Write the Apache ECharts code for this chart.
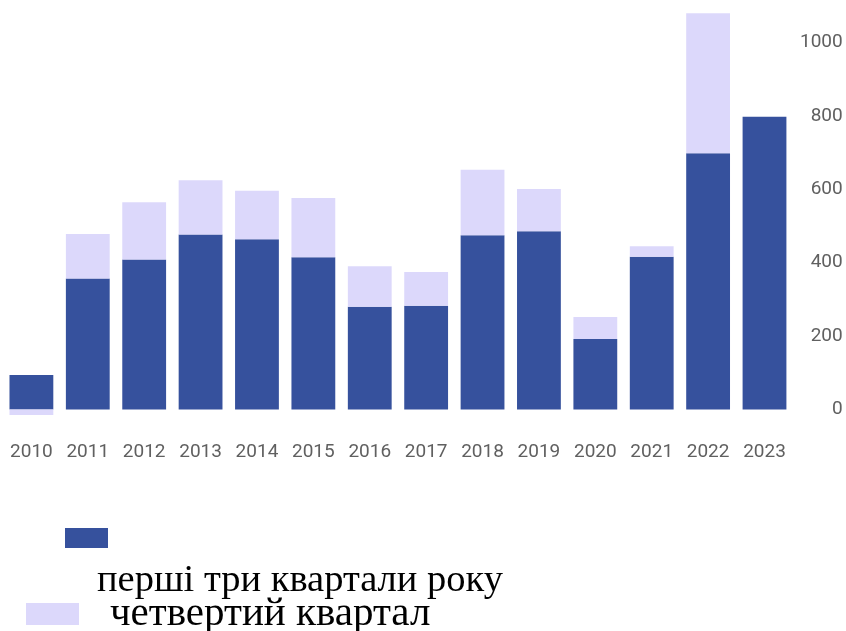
<!DOCTYPE html>
<html>
<head>
<meta charset="utf-8">
<script src="https://cdn.jsdelivr.net/npm/echarts@6/dist/echarts.min.js"></script>
<style>html,body{margin:0;padding:0;background:#fff}#c{width:846px;height:631px}</style>
</head>
<body>
<div id="c"></div>
<script>
const years = ['2010','2011','2012','2013','2014','2015','2016','2017','2018','2019','2020','2021','2022','2023'];
const firstThreeQuarters = [94, 357, 409, 477, 464, 415, 280, 283, 475, 486, 192, 416, 698, 798];
const fourthQuarter = [-15, 121, 156, 148, 132, 161, 110, 92, 178, 115, 60, 29, 382, 0];
const yTicks = [0, 200, 400, 600, 800, 1000];
const nameFirst = 'перші три квартали року';
const nameFourth = 'четвертий квартал';

const darkColor = '#36519d';
const lightColor = '#dcd8fb';

const chart = echarts.init(document.getElementById('c'), null, {renderer: 'canvas'});
chart.setOption({
  animation: false,
  backgroundColor: '#ffffff',
  grid: {left: 3.2, right: 53.3, top: 5.8, bottom: 221.5, containLabel: false},
  xAxis: {
    type: 'category',
    data: years,
    axisLine: {show: false},
    axisTick: {show: false},
    axisLabel: {interval: 0, margin: 33, color: '#606060', fontFamily: 'Roboto', fontSize: 19}
  },
  yAxis: {
    type: 'value',
    position: 'right',
    min: 0,
    max: 1100,
    interval: 200,
    splitLine: {show: false},
    axisLine: {show: false},
    axisTick: {show: false},
    axisLabel: {
      align: 'right',
      margin: 50,
      color: '#606060',
      fontFamily: 'Roboto',
      fontSize: 19,
      formatter: function (v) { return yTicks.indexOf(v) >= 0 ? String(v) : ''; }
    }
  },
  legend: [
    {data: [nameFirst], left: 65, top: 528, itemWidth: 43, itemHeight: 20, icon: 'rect',
     formatter: function () { return ''; }, selectedMode: false, padding: 0},
    {data: [nameFourth], left: 26, top: 603, itemWidth: 53, itemHeight: 22, icon: 'rect',
     formatter: function () { return ''; }, selectedMode: false, padding: 0}
  ],
  graphic: [
    {type: 'text', left: 97, top: 561, style: {text: nameFirst, font: '38.5px "Liberation Serif"', fill: '#000'}},
    {type: 'text', left: 110, top: 594, style: {text: nameFourth, font: '41px "Liberation Serif"', fill: '#000'}}
  ],
  series: [
    {name: nameFirst, type: 'bar', stack: 'total', data: firstThreeQuarters, barCategoryGap: '22.3%',
     clip: false, itemStyle: {color: darkColor}},
    {name: nameFourth, type: 'bar', stack: 'total', data: fourthQuarter, barCategoryGap: '22.3%',
     clip: false, itemStyle: {color: lightColor}}
  ]
});
</script>
</body>
</html>
